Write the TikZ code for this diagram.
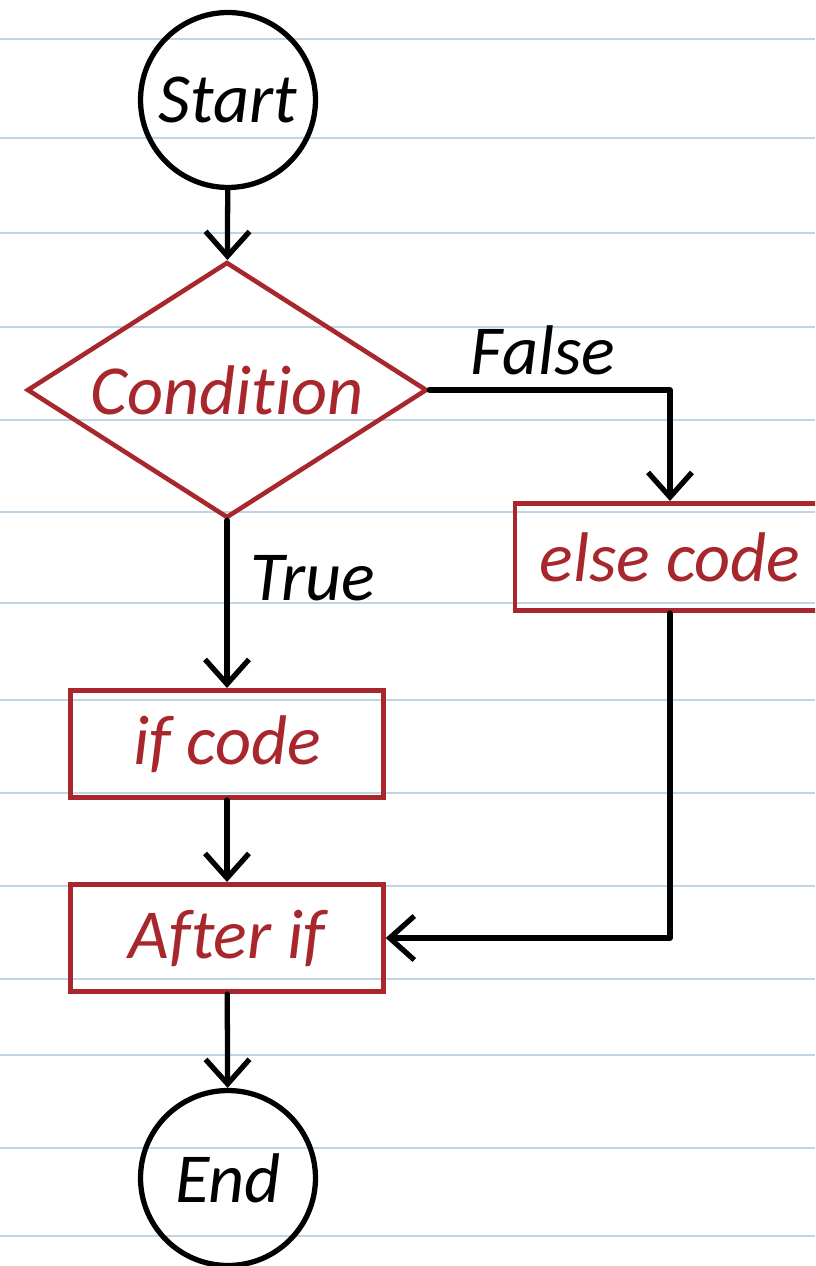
\documentclass[tikz,border=0pt]{standalone}
\usepackage{fontspec}
\setmainfont{Carlito}[Ligatures=NoCommon]
\usetikzlibrary{arrows.meta,shapes.geometric}
\definecolor{rule}{HTML}{BFD5E6}
\definecolor{ink}{HTML}{A8272D}
\tikzset{
  conn/.style={draw=black,line width=3pt,line cap=round,line join=round,
    -{Straight Barb[length=14pt,width=25pt,line width=3pt]}},
  term/.style={circle,draw=black,line width=3pt,minimum size=3.5cm,inner sep=0pt,
    font=\fontsize{40}{44}\selectfont\itshape},
  stepbox/.style={rectangle,draw=ink,line width=2.6pt,text=ink,inner sep=0pt,
    minimum height=2.15cm,font=\fontsize{40}{44}\selectfont\itshape},
  decide/.style={diamond,draw=ink,line width=2.6pt,text=ink,inner sep=0pt,aspect=1.5625,
    minimum width=8cm,minimum height=5.12cm,font=\fontsize{40}{44}\selectfont\itshape},
  lbl/.style={font=\fontsize{40}{44}\selectfont\itshape,text=black,inner sep=0pt}
}
\begin{document}
\begin{tikzpicture}[x=0.02cm,y=-0.02cm]
\clip (0,0) rectangle (815,1266);
\fill[white] (0,0) rectangle (815,1266);
\foreach \yy in {39,138,233,327,420,512,603,700,793,886,979,1055,1148,1236}
  \draw[rule,line width=1.6pt] (0,\yy) -- (815,\yy);
\node[term] (start) at (228,100) {Start};
\node[decide] (cond) at (227,390) {Condition};
\node[stepbox,minimum width=6.2cm] (else) at (670,557) {else code};
\node[stepbox,minimum width=6.26cm] (ifc) at (227,744) {if code};
\node[stepbox,minimum width=6.26cm] (after) at (227,938) {After if};
\node[term] (end) at (228,1178) {End};
\node[lbl] (lf) at (543,350) {False};
\node[lbl] (lt) at (313,578) {True};
\draw[conn] (start) -- (cond);
\draw[conn] (cond.east) -| (else.north);
\draw[conn] (cond.south) -- (ifc.north);
\draw[conn] (ifc) -- (after);
\draw[conn] (else.south) |- (after.east);
\draw[conn] (after) -- (end);
\end{tikzpicture}
\end{document}
